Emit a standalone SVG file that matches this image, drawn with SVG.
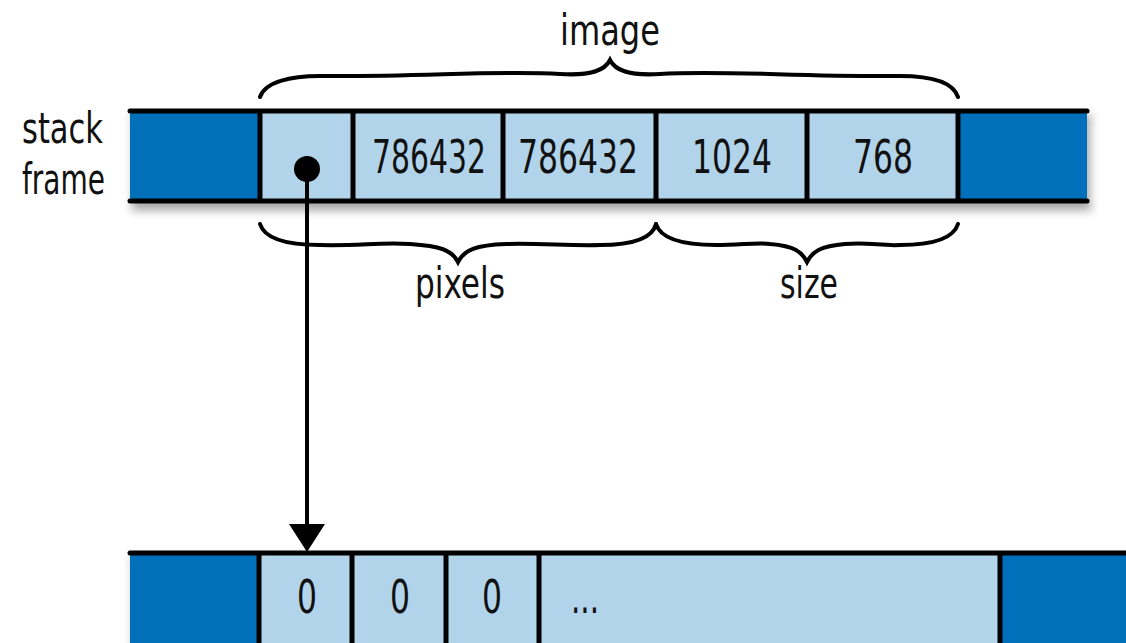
<svg xmlns="http://www.w3.org/2000/svg" width="1126" height="643" viewBox="0 0 1126 643">
<defs>
<filter id="sh" x="-5%" y="-20%" width="110%" height="160%">
<feGaussianBlur in="SourceAlpha" stdDeviation="5"/>
<feOffset dx="3" dy="7" result="b"/>
<feComponentTransfer><feFuncA type="linear" slope="0.35"/></feComponentTransfer>
<feMerge><feMergeNode/><feMergeNode in="SourceGraphic"/></feMerge>
</filter>
</defs>
<style>
.dark{fill:#0070BB}
.light{fill:#B2D4EA}
.ln{stroke:#000;stroke-width:5;stroke-linecap:round;fill:none}
.dv{stroke:#000;stroke-width:5;fill:none}
.br{stroke:#000;stroke-width:4;fill:none;stroke-linecap:round}
text{font-family:"Liberation Sans Narrow","DejaVu Sans Condensed","Liberation Sans",sans-serif;fill:#111}
.v{font-size:47px;text-anchor:middle}
.lb{font-size:42px;text-anchor:middle}
</style>
<rect width="1126" height="643" fill="#fff"/>
<g id="stack-frame">
<text x="22" y="143" style="font-size:42px" textLength="81" lengthAdjust="spacingAndGlyphs">stack</text>
<text x="22" y="194" style="font-size:42px" textLength="83" lengthAdjust="spacingAndGlyphs">frame</text>
</g>
<g id="top-bar" filter="url(#sh)">
<rect class="dark" x="130" y="111" width="130" height="90"/>
<rect class="light" x="260" y="111" width="698" height="90"/>
<rect class="dark" x="958" y="111" width="129" height="90"/>
<line class="ln" x1="130" y1="111" x2="1087" y2="111"/>
<line class="ln" x1="130" y1="201" x2="1087" y2="201"/>
<line class="dv" x1="260" y1="111" x2="260" y2="201"/>
<line class="dv" x1="353" y1="111" x2="353" y2="201"/>
<line class="dv" x1="503" y1="111" x2="503" y2="201"/>
<line class="dv" x1="656" y1="111" x2="656" y2="201"/>
<line class="dv" x1="807" y1="111" x2="807" y2="201"/>
<line class="dv" x1="958" y1="111" x2="958" y2="201"/>
</g>
<g id="cells-top">
<text class="v" x="429" y="173" textLength="114" lengthAdjust="spacingAndGlyphs">786432</text>
<text class="v" x="578" y="173" textLength="120" lengthAdjust="spacingAndGlyphs">786432</text>
<text class="v" x="732" y="173" textLength="80" lengthAdjust="spacingAndGlyphs">1024</text>
<text class="v" x="883" y="173" textLength="60" lengthAdjust="spacingAndGlyphs">768</text>
</g>
<g id="brace-image">
<path class="br" d="M260,97 C265,82 290,76 320,76 C420,77 500,70 560,74 C592,76 605,70 610,60 C615,70 628,76 660,74 C720,70 800,77 900,76 C930,76 953,82 958,97"/>
<text class="lb" x="610" y="45" textLength="100" lengthAdjust="spacingAndGlyphs">image</text>
</g>
<g id="brace-pixels">
<path class="br" d="M260,224 C265,240 290,245 320,245 C360,246 380,242 410,244 C440,246 452,250 458,262 C464,250 476,245 506,244 C540,243 570,246 600,245 C630,245 652,240 656,224"/>
<text class="lb" x="460" y="298" textLength="90" lengthAdjust="spacingAndGlyphs">pixels</text>
</g>
<g id="brace-size">
<path class="br" d="M656,224 C661,240 686,245 716,245 C740,245 760,242 770,244 C795,246 802,252 807,262 C812,252 820,246 845,244 C870,242 880,246 900,245 C930,245 953,240 958,224"/>
<text class="lb" x="809" y="298" textLength="58" lengthAdjust="spacingAndGlyphs">size</text>
</g>
<g id="bottom-bar" filter="url(#sh)">
<rect class="dark" x="130" y="553" width="130" height="92"/>
<rect class="light" x="260" y="553" width="740" height="92"/>
<rect class="dark" x="1000" y="553" width="130" height="92"/>
<line class="ln" x1="130" y1="553" x2="1130" y2="553"/>
<line class="dv" x1="259" y1="553" x2="259" y2="645"/>
<line class="dv" x1="352" y1="553" x2="352" y2="645"/>
<line class="dv" x1="446" y1="553" x2="446" y2="645"/>
<line class="dv" x1="539" y1="553" x2="539" y2="645"/>
<line class="dv" x1="1000" y1="553" x2="1000" y2="645"/>
</g>
<g id="cells-bottom">
<text class="v" x="307" y="613" textLength="20" lengthAdjust="spacingAndGlyphs">0</text>
<text class="v" x="400" y="613" textLength="20" lengthAdjust="spacingAndGlyphs">0</text>
<text class="v" x="492" y="613" textLength="20" lengthAdjust="spacingAndGlyphs">0</text>
<text x="571" y="613" style="font-size:44px" textLength="28" lengthAdjust="spacingAndGlyphs">...</text>
</g>
<g id="connectors">
<circle cx="307" cy="169" r="13" fill="#000"/>
<line x1="307" y1="169" x2="307" y2="526" stroke="#000" stroke-width="4"/>
<polygon points="289,524 325,524 307,552" fill="#000"/>
</g>
</svg>
